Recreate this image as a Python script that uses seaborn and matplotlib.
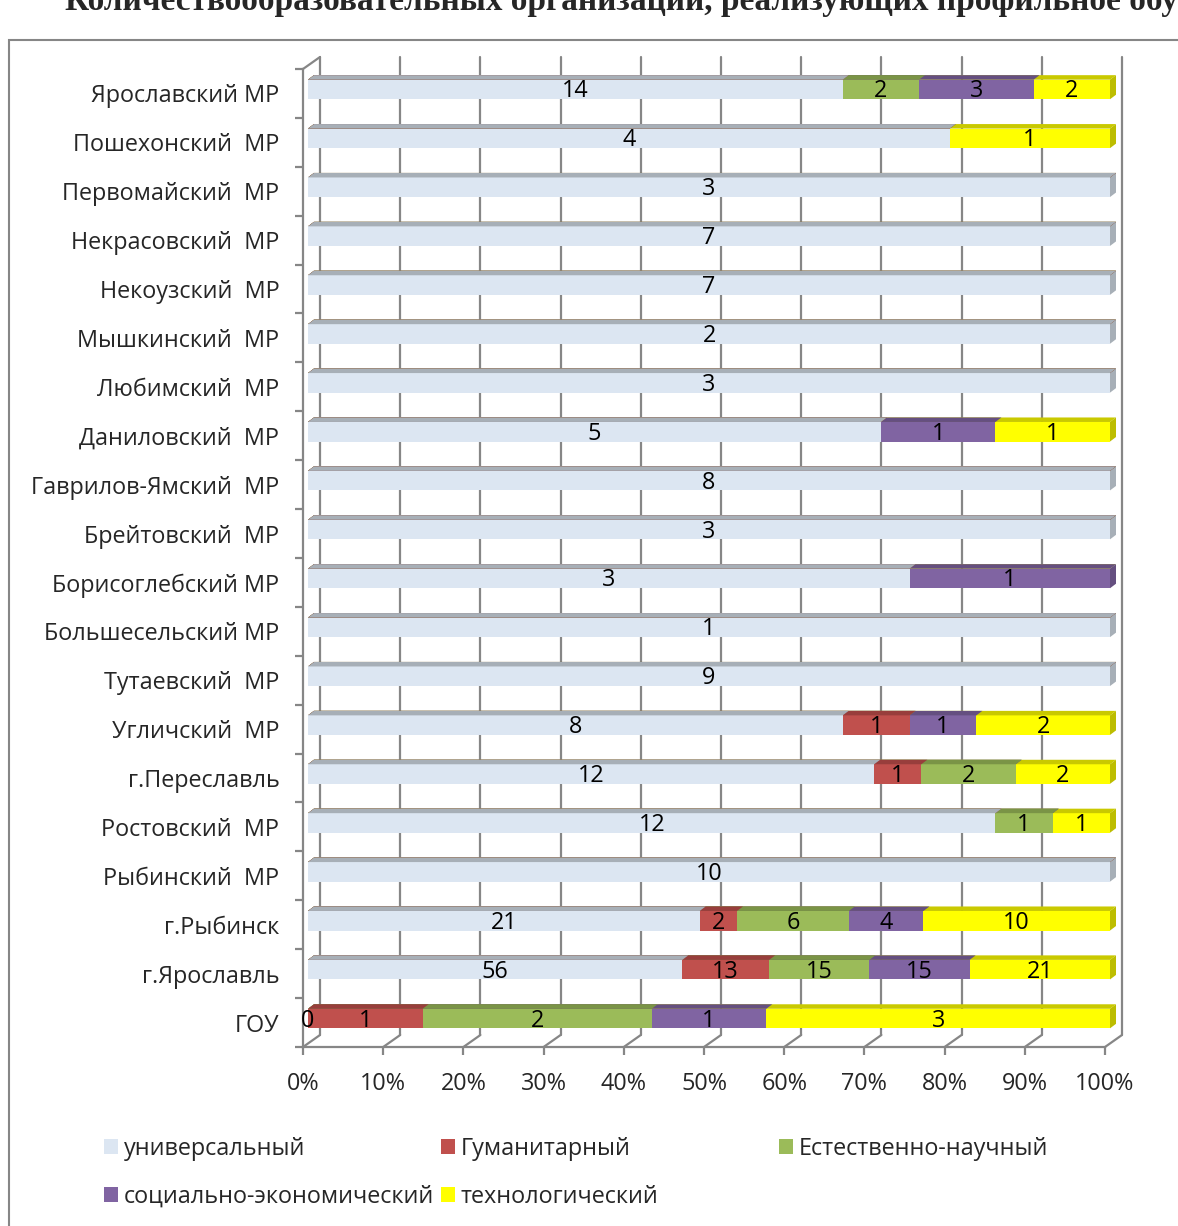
import numpy as np
import pandas as pd
import matplotlib
matplotlib.use("Agg")
import matplotlib.pyplot as plt
import seaborn as sns
from matplotlib.patches import Polygon, Rectangle, Patch
from matplotlib.lines import Line2D
from matplotlib.transforms import ScaledTranslation

nan = np.nan

# ---------------- data ----------------
categories = ["Ярославский МР", "Пошехонский  МР", "Первомайский  МР", "Некрасовский  МР",
              "Некоузский  МР", "Мышкинский  МР", "Любимский  МР", "Даниловский  МР",
              "Гаврилов-Ямский  МР", "Брейтовский  МР", "Борисоглебский МР",
              "Большесельский МР", "Тутаевский  МР", "Угличский  МР", "г.Переславль",
              "Ростовский  МР", "Рыбинский  МР", "г.Рыбинск", "г.Ярославль", "ГОУ"]

series_names = ["универсальный", "Гуманитарный", "Естественно-научный",
                "социально-экономический", "технологический"]

universal    = [14, 4, 3, 7, 7, 2, 3, 5, 8, 3, 3, 1, 9, 8, 12, 12, 10, 21, 56, 0]
humanitarian = [nan, nan, nan, nan, nan, nan, nan, nan, nan, nan, nan, nan, nan, 1, 1, nan, nan, 2, 13, 1]
natural      = [2, nan, nan, nan, nan, nan, nan, nan, nan, nan, nan, nan, nan, nan, 2, 1, nan, 6, 15, 2]
socecon      = [3, nan, nan, nan, nan, nan, nan, 1, nan, nan, 1, nan, nan, 1, nan, nan, nan, 4, 15, 1]
technological = [2, 1, nan, nan, nan, nan, nan, 1, nan, nan, nan, nan, nan, 2, 2, 1, nan, 10, 21, 3]

xtick_values = [0, 0.1, 0.2, 0.3, 0.4, 0.5, 0.6, 0.7, 0.8, 0.9, 1.0]
xtick_labels = ["0%", "10%", "20%", "30%", "40%", "50%", "60%", "70%", "80%", "90%", "100%"]

title = "Количествообразовательных организаций, реализующих профильное обучение"

# ---------------- styles ----------------
front_colors = ["#DCE6F2", "#C0504D", "#9BBB59", "#8064A2", "#FFFF00"]
top_colors = ["#A7AFB7", "#983E3C", "#7A9446", "#654F80", "#C9C900"]
side_colors = ["#A7AFB7", "#983E3C", "#7A9446", "#654F80", "#BDBD00"]
grid_color = "#868686"

W, H, DPI = 1178, 1226, 100
sns.set_theme(style="white")
plt.rcParams["font.family"] = ["Open Sans", "DejaVu Sans"]
FS = 16.8

fig = plt.figure(figsize=(W / DPI, H / DPI), dpi=DPI)
ax_l, ax_r, ax_t, ax_b = 303, 1105, 69, 1047
ax = fig.add_axes([ax_l / W, 1 - ax_b / H, (ax_r - ax_l) / W, (ax_b - ax_t) / H])

# values table -> shares
df = pd.DataFrame({"cat": categories, series_names[0]: universal, series_names[1]: humanitarian,
                   series_names[2]: natural, series_names[3]: socecon,
                   series_names[4]: technological})
vals = df[series_names].astype(float)
totals = vals.fillna(0).sum(axis=1)
shares = vals.fillna(0).div(totals, axis=0)
cum = shares.cumsum(axis=1)
# index of the last non-empty segment in each row (its side face is visible)
last_seg = [max(j for j in range(5) if shares.iloc[i, j] > 0) for i in range(len(categories))]

bar_h = 0.4
px_x = (ax_r - ax_l) / 1.0          # pixels per data unit x
px_y = (ax_b - ax_t) / 20.0         # pixels per category
dx = 6 / px_x
dy = 4.5 / px_y
bar_off = ax.transData + ScaledTranslation(5 / DPI, 4 / DPI, fig.dpi_scale_trans)

ax.set_xlim(0, 1)
ax.set_ylim(19.5, -0.5)

for k in reversed(range(5)):
    n_before = len(ax.patches)
    sns.barplot(x=cum[series_names[k]].values, y=df["cat"], color=front_colors[k],
                saturation=1, width=bar_h, orient="h", errorbar=None, ax=ax,
                linewidth=0, edgecolor="none", zorder=3)
    new_patches = ax.patches[n_before:]
    for i, p in enumerate(new_patches):
        p.set_transform(bar_off)
        p.set_clip_on(False)
        x1 = p.get_x() + p.get_width()
        ytop = p.get_y()              # smaller y = visually upper edge (inverted axis)
        ybot = p.get_y() + p.get_height()
        if p.get_width() <= 0:
            continue
        top = Polygon([(0, ytop), (dx, ytop - dy), (x1 + dx, ytop - dy), (x1, ytop)],
                      closed=True, facecolor=top_colors[k], edgecolor="none",
                      transform=bar_off, zorder=3, clip_on=False)
        ax.add_patch(top)
        if k == 4:
            side = Polygon([(x1, ytop), (x1 + dx, ytop - dy), (x1 + dx, ybot - dy), (x1, ybot)],
                           closed=True, facecolor=side_colors[last_seg[i]], edgecolor="none",
                           transform=bar_off, zorder=3, clip_on=False)
            ax.add_patch(side)

ax.set_xlim(0, 1)
ax.set_ylim(19.5, -0.5)

# data labels
lab_off = ax.transData + ScaledTranslation(5 / DPI, 2 / DPI, fig.dpi_scale_trans)
for k in range(5):
    for i in range(len(categories)):
        v = vals.iloc[i, k]
        if np.isnan(v):
            continue
        left = cum.iloc[i, k - 1] if k > 0 else 0.0
        right = cum.iloc[i, k]
        ax.text((left + right) / 2, i, f"{int(v)}", ha="center", va="center",
                fontsize=FS, color="black", transform=lab_off, zorder=5, clip_on=False)

# back-wall grid lines (3D offset)
ax.set_xticks(xtick_values)
ax.set_xticklabels(xtick_labels, fontsize=FS)
ax.grid(False)
gdx, gdy = 17, 12
wall_off = ScaledTranslation(gdx / DPI, gdy / DPI, fig.dpi_scale_trans)
xt = ax.get_xaxis_transform()
for xv in xtick_values:
    ax.add_line(Line2D([xv, xv], [0, 1], transform=xt + wall_off, color=grid_color,
                       lw=1.6, zorder=1, clip_on=False))
    # floor diagonals
    ax.add_line(Line2D([xv, xv + gdx / px_x], [0, gdy / (ax_b - ax_t)], transform=xt,
                       color=grid_color, lw=1.6, zorder=1, clip_on=False))
# top-left wall diagonal
ax.add_line(Line2D([0, gdx / px_x], [1, 1 + gdy / (ax_b - ax_t)], transform=xt,
                   color=grid_color, lw=1.6, zorder=1, clip_on=False))

# y ticks: boundaries as major ticks, labels at centers
ax.set_yticks(np.arange(-0.5, 20, 1))
ax.set_yticklabels([])
ax.set_yticks(np.arange(20), minor=True)
ax.set_yticklabels(categories, minor=True, fontsize=FS)
ax.tick_params(axis="y", which="major", left=True, length=6, width=1.6, color=grid_color)
ax.tick_params(axis="y", which="minor", left=False, length=0, pad=17)
ax.tick_params(axis="x", which="major", bottom=True, length=6, width=1.6, color=grid_color,
               pad=12)
ax.set_ylabel("")
ax.set_xlabel("")

for s in ["top", "right"]:
    ax.spines[s].set_visible(False)
for s in ["left", "bottom"]:
    ax.spines[s].set_color(grid_color)
    ax.spines[s].set_linewidth(1.6)
    ax.spines[s].set_zorder(1)
ax.set_facecolor("none")

# legend: items placed on a grid (row-major)
legend_pos = [(104, 1149), (441, 1149), (779, 1149), (104, 1197), (441, 1197)]
for k in range(5):
    lx, ly = legend_pos[k]
    h = Patch(facecolor=front_colors[k], edgecolor="none")
    fig.legend([h], [series_names[k]], loc="center left",
               bbox_to_anchor=(lx / W, 1 - ly / H), frameon=False, fontsize=FS,
               handlelength=0.6, handleheight=0.6, handletextpad=0.25, borderpad=0,
               borderaxespad=0)

# outer chart border
fig.add_artist(Rectangle((9 / W, -0.1), 1.2, 1.1 - 40 / H, transform=fig.transFigure,
                         fill=False, edgecolor=grid_color, lw=1.5))

# title (clipped at the top in the reference)
fig.text(65 / W, 1 - 10 / H, title, ha="left", va="baseline", fontsize=24,
         fontweight="bold", family=["Liberation Serif", "DejaVu Serif"])

fig.savefig("out.png", dpi=DPI)
